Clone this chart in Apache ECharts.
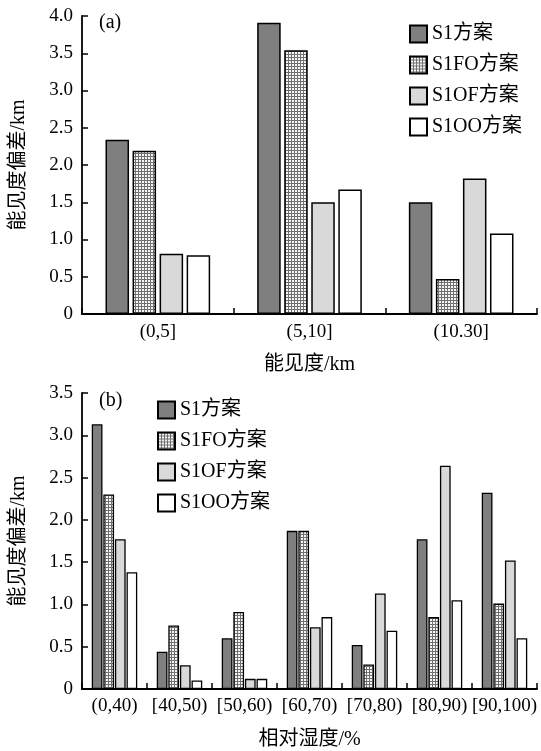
<!DOCTYPE html>
<html>
<head>
<meta charset="utf-8">
<script src="https://cdn.jsdelivr.net/npm/echarts@6/dist/echarts.min.js"></script>
<style>
html,body{margin:0;padding:0;background:#fff;}
#chart{width:541px;height:751px;}
</style>
</head>
<body>
<div id="chart"></div>
<script>
// ---- data ----
const seriesNames = ['S1方案', 'S1FO方案', 'S1OF方案', 'S1OO方案'];

const catA = ['(0,5]', '(5,10]', '(10.30]'];
const aS1   = [2.34, 3.91, 1.50];
const aS1FO = [2.19, 3.54, 0.47];
const aS1OF = [0.81, 1.50, 1.82];
const aS1OO = [0.79, 1.67, 1.08];

const catB = ['(0,40)', '[40,50)', '[50,60)', '[60,70)', '[70,80)', '[80,90)', '[90,100)'];
const bS1   = [3.13, 0.44, 0.60, 1.87, 0.52, 1.77, 2.32];
const bS1FO = [2.30, 0.75, 0.91, 1.87, 0.29, 0.85, 1.01];
const bS1OF = [1.77, 0.28, 0.12, 0.73, 1.13, 2.64, 1.52];
const bS1OO = [1.38, 0.10, 0.12, 0.85, 0.69, 1.05, 0.60];

const xNameA = '能见度/km';
const xNameB = '相对湿度/%';
const yName = '能见度偏差/km';

// ---- styles ----
const FONT = '"Liberation Serif", "Noto Sans CJK SC", serif';
function hatch() {
  const c = document.createElement('canvas');
  c.width = 3; c.height = 3;
  const g = c.getContext('2d');
  g.fillStyle = '#f6f6f6';
  g.fillRect(0, 0, 3, 3);
  g.fillStyle = '#707070';
  g.fillRect(0, 0, 3, 1);
  g.fillRect(0, 0, 1, 3);
  return c;
}
const hatchImg = hatch();
const fills = ['#7f7f7f', {image: hatchImg, repeat: 'repeat'}, '#d9d9d9', '#ffffff'];

const chart = echarts.init(document.getElementById('chart'), null, {renderer: 'canvas'});

function yAxis(gridIndex, max) {
  return {
    type: 'value', gridIndex: gridIndex, min: 0, max: max, interval: 0.5,
    name: yName, nameLocation: 'middle', nameGap: 53, nameRotate: 90,
    nameTextStyle: {fontFamily: FONT, fontSize: 20, color: '#000'},
    axisLine: {show: true, lineStyle: {color: '#000', width: 1.8}},
    axisTick: {show: true, inside: true, length: 6, lineStyle: {color: '#000', width: 1.5}},
    axisLabel: {fontFamily: FONT, fontSize: 19, color: '#000', margin: 9,
      formatter: v => v === 0 ? '0' : v.toFixed(1)},
    splitLine: {show: false}
  };
}
function xAxis(gridIndex, cats, name, margin) {
  return {
    type: 'category', gridIndex: gridIndex, data: cats,
    name: name, nameLocation: 'middle', nameGap: 41,
    nameTextStyle: {fontFamily: FONT, fontSize: 20, color: '#000'},
    axisLine: {show: true, lineStyle: {color: '#000', width: 1.8}},
    axisTick: {show: true, inside: true, length: 6, alignWithLabel: false, lineStyle: {color: '#000', width: 1.5}},
    axisLabel: {fontFamily: FONT, fontSize: 19, color: '#000', margin: margin, interval: 0},
    splitLine: {show: false}
  };
}

const dataA = [aS1, aS1FO, aS1OF, aS1OO];
const dataB = [bS1, bS1FO, bS1OF, bS1OO];
const series = [];
seriesNames.forEach((n, i) => {
  series.push({
    name: n, type: 'bar', xAxisIndex: 0, yAxisIndex: 0, data: dataA[i],
    barGap: '15%', barCategoryGap: '31%',
    itemStyle: {color: fills[i], borderColor: '#000', borderWidth: 1.5},
    emphasis: {disabled: true}
  });
});
seriesNames.forEach((n, i) => {
  series.push({
    name: n, type: 'bar', xAxisIndex: 1, yAxisIndex: 1, data: dataB[i],
    barGap: '8%', barCategoryGap: '30%',
    itemStyle: {color: fills[i], borderColor: '#000', borderWidth: 1.3},
    emphasis: {disabled: true}
  });
});

function legend(left, top) {
  return {
    orient: 'vertical', left: left, top: top, data: seriesNames, padding: 0,
    itemWidth: 17, itemHeight: 17, itemGap: 11, selectedMode: false,
    icon: 'rect',
    textStyle: {fontFamily: FONT, fontSize: 20, lineHeight: 20, color: '#000'}
  };
}

chart.setOption({
  animation: false,
  backgroundColor: '#fff',
  grid: [
    {left: 82, right: 4, top: 16, height: 298},
    {left: 82, right: 4, top: 393, height: 297}
  ],
  xAxis: [xAxis(0, catA, xNameA, 9), xAxis(1, catB, xNameB, 8)],
  yAxis: [yAxis(0, 4), yAxis(1, 3.5)],
  legend: [legend(409, 24), legend(157, 400)],
  graphic: [
    {type: 'text', left: 99, top: 13, style: {text: '(a)', font: '20px ' + FONT, fill: '#000'}},
    {type: 'text', left: 99, top: 391, style: {text: '(b)', font: '20px ' + FONT, fill: '#000'}}
  ],
  series: series
});
</script>
</body>
</html>
